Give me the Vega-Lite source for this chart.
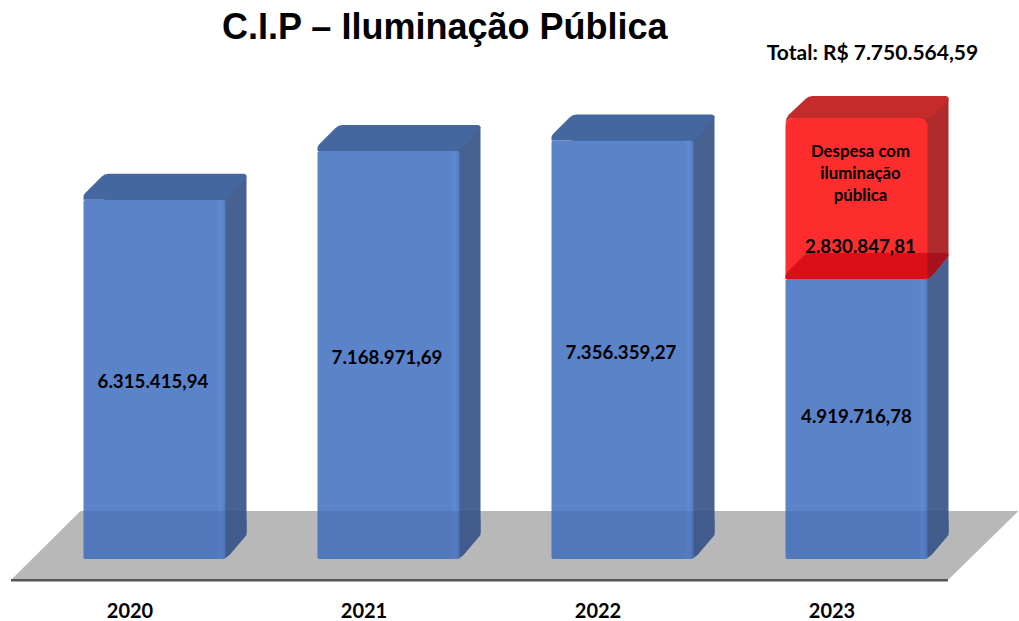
{
"$schema":"https://vega.github.io/schema/vega-lite/v6.json",
"width":1019,"height":509,
"autosize":{"type":"none"},
"padding":{"top":50,"bottom":62,"left":0,"right":0},
"background":"white",
"title":{"text":"C.I.P – Iluminação Pública","anchor":"start","frame":"group","dx":222,"dy":14,"offset":10,"font":"Liberation Sans","fontWeight":"bold","fontSize":36,"color":"#000000"},
"config":{"view":{"stroke":null}},
"data":{"values":[
{"ano":"2020","tipo":"receita","valor":6315415.94,"rotulo":"6.315.415,94"},
{"ano":"2021","tipo":"receita","valor":7168971.69,"rotulo":"7.168.971,69"},
{"ano":"2022","tipo":"receita","valor":7356359.27,"rotulo":"7.356.359,27"},
{"ano":"2023","tipo":"receita","valor":4919716.78,"rotulo":"4.919.716,78"},
{"ano":"2023","tipo":"despesa","valor":2830847.81,"rotulo":"2.830.847,81","nota":"Despesa com\niluminação\npública","total":"Total: R$ 7.750.564,59"}
]},
"transform":[
{"stack":"valor","groupby":["ano"],"sort":[{"field":"tipo","order":"descending"}],"as":["base","topo"]},
{"calculate":"(datum.base+datum.topo)/2","as":"meio"}
],
"encoding":{
"x":{"field":"ano","type":"nominal","sort":null,"title":null,"scale":{"type":"point","range":[154.5,856.5],"padding":0},
"axis":{"domain":false,"ticks":false,"labelAngle":0,"labelFont":"Lato","labelFontWeight":"bold","labelFontSize":20,"labelColor":"#000000","labelPadding":42,"labelOffset":-25,"grid":false}},
"y":{"field":"topo","type":"quantitative","title":null,"axis":null,"scale":{"domain":[0,8945500],"nice":false,"zero":false}}
},
"layer":[
{"transform":[{"filter":"datum.ano==='2020' && datum.tipo==='receita'"}],
 "mark":{"type":"point","filled":true,"opacity":1,"size":4,"strokeWidth":0,"color":"#b8b8b8","shape":"M-143.5,21 L793.5,21 L864,-48 L-74,-48 Z"},
 "encoding":{"y":{"field":"base","type":"quantitative"}}},
{"transform":[{"filter":"datum.ano==='2020' && datum.tipo==='receita'"}],
 "mark":{"type":"point","filled":true,"opacity":1,"size":4,"strokeWidth":0,"color":"#555555","shape":"M-143.5,20 L793.5,20 L793.5,22.5 L-143.5,22.5 Z"},
 "encoding":{"y":{"field":"base","type":"quantitative"}}},
{"transform":[{"filter":"datum.tipo==='receita'"}],
 "mark":{"type":"bar","width":142,"xOffset":21,"yOffset":-24,"y2Offset":-26,"color":"#476191"},
 "encoding":{"y2":{"field":"base"}}},
{"transform":[{"filter":"datum.tipo==='despesa'"}],
 "mark":{"type":"bar","width":142,"xOffset":21,"yOffset":-20,"y2Offset":-26,"color":"#b02b2b"},
 "encoding":{"y2":{"field":"base"}}},
{"transform":[{"filter":"datum.tipo==='receita'"}],
 "mark":{"type":"point","filled":true,"opacity":1,"size":4,"strokeWidth":0,"color":"#476191","shape":"M60,0 L68,0 Q72,-1 75,-4 L92,-24 L92,-40 L60,-40 Z"},
 "encoding":{"y":{"field":"base","type":"quantitative"}}},
{"transform":[{"filter":"datum.tipo==='receita'"}],
 "mark":{"type":"bar","width":142,"cornerRadius":2,"color":{"gradient":"linear","x1":0,"x2":1,"y1":0,"y2":0,"stops":[{"offset":0,"color":"#5b83c9"},{"offset":0.93,"color":"#5b83c9"},{"offset":0.97,"color":"#6089d1"},{"offset":1,"color":"#527ac0"}]}},
 "encoding":{"y2":{"field":"base"}}},
{"transform":[{"filter":"datum.tipo==='despesa'"}],
 "mark":{"type":"bar","width":142,"cornerRadiusTopLeft":8,"cornerRadiusTopRight":8,"color":"#fe2d2d"},
 "encoding":{"y2":{"field":"base"}}},
{"transform":[{"filter":"datum.tipo==='receita'"}],
 "mark":{"type":"point","filled":true,"opacity":1,"size":4,"strokeWidth":0,"shape":"M-71,0 L-71,-3 Q-71,-5 -69,-7 L-53,-23 Q-50,-26 -46,-26 L89,-26 Q92,-26 92,-23 L77,-5 Q72,0 66,0 Z"},
 "encoding":{"color":{"condition":{"test":"datum.ano==='2023'","value":"#dc0f18"},"value":"#44679f"}}},
{"transform":[{"filter":"datum.tipo==='despesa'"}],
 "mark":{"type":"point","filled":true,"opacity":1,"size":4,"strokeWidth":0,"color":"#c42c2c","shape":"M-71,8 L-71,5 Q-71,1 -68,-3 L-51,-19 Q-48,-22 -44,-22 L89,-22 Q92,-22 92,-19 L92,-17 L76,-2 Q71,1 64,0 L-62,0 Q-71,0 -71,8 Z"}},
{"transform":[{"filter":"datum.ano==='2023' && datum.tipo==='receita'"}],
 "mark":{"type":"point","filled":true,"opacity":1,"size":4,"strokeWidth":0,"color":"#a8121c","shape":"M71,0 L71,-26 L92,-26 L92,-24 L77,-5 Q74,-2 71,0 Z"}},
{"transform":[{"filter":"datum.tipo==='receita'"}],
 "mark":{"type":"point","filled":true,"opacity":0.14,"size":4,"strokeWidth":0,"color":"#1f3a70","shape":"M-71,0 L-71,-48 L92,-48 L92,-24 L75,-4 Q72,-1 68,0 Z"},
 "encoding":{"y":{"field":"base","type":"quantitative"}}},
{"mark":{"type":"text","font":"Lato","fontWeight":"bold","fontSize":18.7,"color":"#000000","dy":3,"dx":-1.5},
 "transform":[{"filter":"datum.tipo==='receita' && datum.ano!=='2023'"}],
 "encoding":{"y":{"field":"meio","type":"quantitative"},"text":{"field":"rotulo"}}},
{"mark":{"type":"text","font":"Lato","fontWeight":"bold","fontSize":18.7,"color":"#000000","dy":-2,"dx":0},
 "transform":[{"filter":"datum.tipo==='receita' && datum.ano==='2023'"}],
 "encoding":{"y":{"field":"meio","type":"quantitative"},"text":{"field":"rotulo"}}},
{"mark":{"type":"text","font":"Lato","fontWeight":"bold","fontSize":18.7,"color":"#000000","dx":4,"dy":129},
 "transform":[{"filter":"datum.tipo==='despesa'"}],
 "encoding":{"text":{"field":"rotulo"}}},
{"mark":{"type":"text","font":"Lato","fontWeight":"bold","fontSize":16.8,"color":"#000000","dx":4,"dy":34,"lineBreak":"\n","lineHeight":22},
 "transform":[{"filter":"datum.tipo==='despesa'"}],
 "encoding":{"text":{"field":"nota"}}},
{"mark":{"type":"text","font":"Lato","fontWeight":"bold","fontSize":21,"color":"#000000","dx":16,"dy":-64},
 "transform":[{"filter":"datum.tipo==='despesa'"}],
 "encoding":{"text":{"field":"total"}}}
]
}
